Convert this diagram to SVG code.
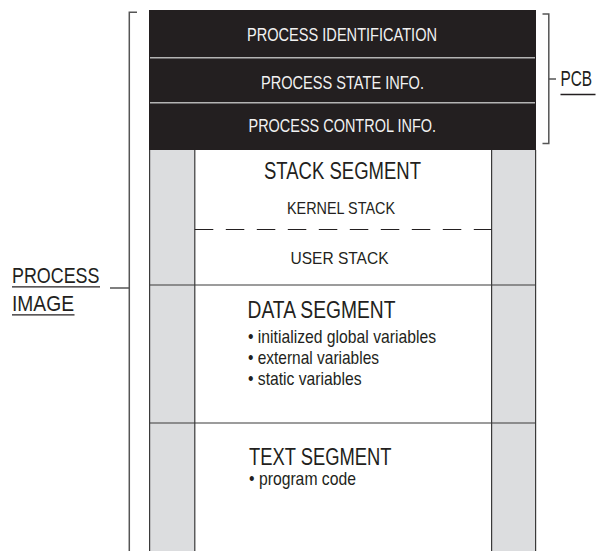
<svg xmlns="http://www.w3.org/2000/svg" width="600" height="551" viewBox="0 0 600 551">
<style>
text{font-family:"Liberation Sans",Arial,sans-serif;fill:#231f20}
.w{fill:#f2f2f2;font-size:17.5px}
.h{font-size:23.5px}
.s{font-size:17px}
.b{font-size:19px}
.lbl{font-size:22px}
.ln{stroke:#3a3a3a;stroke-width:1.2;fill:none}
.br{stroke:#555;stroke-width:1.5;fill:none}
.ul{stroke:#231f20;stroke-width:1.3}
</style>
<rect width="600" height="551" fill="#fff"/>
<g id="pcb">
<rect x="149" y="10" width="387" height="140" fill="#231f20"/>
<line x1="150" y1="57.7" x2="535" y2="57.7" stroke="#b4b4b4" stroke-width="1.6"/>
<line x1="150" y1="102.7" x2="535" y2="102.7" stroke="#b4b4b4" stroke-width="1.6"/>
<text class="w" x="247" y="41" textLength="190" lengthAdjust="spacingAndGlyphs">PROCESS IDENTIFICATION</text>
<text class="w" x="261" y="89" textLength="163" lengthAdjust="spacingAndGlyphs">PROCESS STATE INFO.</text>
<text class="w" x="248.5" y="131.5" textLength="187.5" lengthAdjust="spacingAndGlyphs">PROCESS CONTROL INFO.</text>
</g>
<g id="columns">
<rect x="149" y="150" width="46" height="402" fill="#dcdddf"/>
<rect x="491.5" y="150" width="44.5" height="402" fill="#dcdddf"/>
<line class="ln" x1="149.6" y1="150" x2="149.6" y2="551"/>
<line class="ln" x1="194.8" y1="150" x2="194.8" y2="551"/>
<line class="ln" x1="491.6" y1="150" x2="491.6" y2="551"/>
<line class="ln" x1="535.6" y1="150" x2="535.6" y2="551"/>
</g>
<g id="stack">
<line x1="194.8" y1="229.5" x2="491.6" y2="229.5" stroke="#231f20" stroke-width="1.2" stroke-dasharray="18.5 12.5"/>
<text class="h" x="264" y="179" font-size="24" textLength="157" lengthAdjust="spacingAndGlyphs">STACK SEGMENT</text>
<text class="s" x="287" y="214" textLength="108" lengthAdjust="spacingAndGlyphs">KERNEL STACK</text>
<text class="s" x="290.5" y="264" textLength="98" lengthAdjust="spacingAndGlyphs">USER STACK</text>
<line class="ln" x1="149" y1="285" x2="536" y2="285"/>
</g>
<g id="data">
<text class="h" x="247.5" y="318" textLength="148" lengthAdjust="spacingAndGlyphs">DATA SEGMENT</text>
<text class="b" x="248" y="343" textLength="188" lengthAdjust="spacingAndGlyphs">• initialized global variables</text>
<text class="b" x="248" y="364" textLength="131" lengthAdjust="spacingAndGlyphs">• external variables</text>
<text class="b" x="248" y="385" textLength="113.5" lengthAdjust="spacingAndGlyphs">• static variables</text>
<line class="ln" x1="149" y1="423" x2="536" y2="423"/>
</g>
<g id="text-seg">
<text class="h" x="249" y="465" textLength="142.5" lengthAdjust="spacingAndGlyphs">TEXT SEGMENT</text>
<text class="b" x="249" y="485" textLength="107" lengthAdjust="spacingAndGlyphs">• program code</text>
</g>
<g id="process-image-label">
<path class="br" d="M137,12.3 H129.3 V551"/>
<line class="br" x1="110" y1="288" x2="129.3" y2="288"/>
<text class="lbl" x="12" y="283" textLength="87.5" lengthAdjust="spacingAndGlyphs">PROCESS</text>
<line class="ul" x1="12" y1="286.8" x2="100" y2="286.8"/>
<text class="lbl" x="12" y="311" textLength="62" lengthAdjust="spacingAndGlyphs">IMAGE</text>
<line class="ul" x1="12" y1="314.8" x2="74.5" y2="314.8"/>
</g>
<g id="pcb-label">
<path class="br" d="M542.5,14 H548.8 V143.5 H542.5"/>
<line class="br" x1="548.8" y1="79" x2="556" y2="79"/>
<text class="lbl" transform="matrix(0.7 0 0 1 560.5 86)" font-size="24">PCB</text>
<line class="ul" x1="560.5" y1="94.5" x2="595.5" y2="94.5"/>
</g>
</svg>
